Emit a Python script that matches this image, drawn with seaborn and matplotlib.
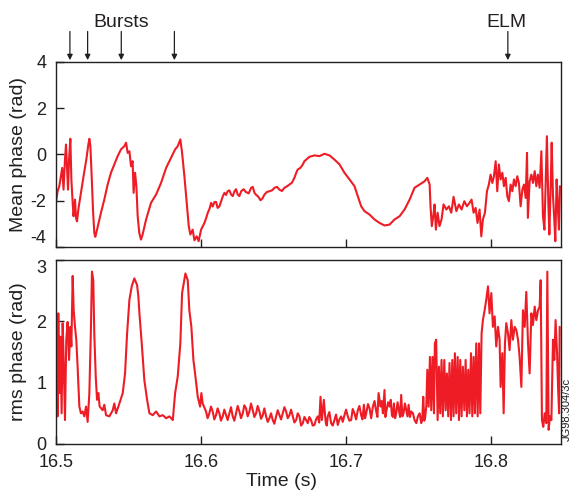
import matplotlib
matplotlib.use('Agg')
import matplotlib.pyplot as plt
import seaborn as sns
import pandas as pd

# Mean phase trace (top panel)
mean_time = [16.5000, 16.5011, 16.5023, 16.5034, 16.5043, 16.5052, 16.5062, 16.5069, 16.5076, 16.5083,
             16.5090, 16.5099, 16.5106, 16.5115, 16.5121, 16.5131, 16.5138, 16.5145, 16.5154, 16.5172,
             16.5190, 16.5209, 16.5223, 16.5230, 16.5237, 16.5246, 16.5255, 16.5264, 16.5271, 16.5283,
             16.5310, 16.5333, 16.5356, 16.5379, 16.5402, 16.5425, 16.5448, 16.5471, 16.5483, 16.5494,
             16.5506, 16.5517, 16.5528, 16.5535, 16.5545, 16.5554, 16.5563, 16.5574, 16.5586, 16.5597,
             16.5621, 16.5655, 16.5690, 16.5724, 16.5759, 16.5793, 16.5821, 16.5839, 16.5857, 16.5869,
             16.5885, 16.5901, 16.5915, 16.5926, 16.5942, 16.5954, 16.5970, 16.5983, 16.6000, 16.6023,
             16.6046, 16.6069, 16.6092, 16.6114, 16.6138, 16.6161, 16.6183, 16.6207, 16.6230, 16.6252,
             16.6276, 16.6310, 16.6345, 16.6368, 16.6390, 16.6409, 16.6437, 16.6471, 16.6506, 16.6540,
             16.6574, 16.6609, 16.6643, 16.6666, 16.6701, 16.6712, 16.6747, 16.6781, 16.6816, 16.6850,
             16.6885, 16.6919, 16.6954, 16.6988, 16.7023, 16.7057, 16.7080, 16.7103, 16.7126, 16.7161,
             16.7195, 16.7230, 16.7264, 16.7299, 16.7333, 16.7368, 16.7402, 16.7437, 16.7471, 16.7506,
             16.7540, 16.7559, 16.7575, 16.7581, 16.7590, 16.7600, 16.7609, 16.7618, 16.7630, 16.7643,
             16.7657, 16.7671, 16.7690, 16.7708, 16.7724, 16.7740, 16.7759, 16.7777, 16.7795, 16.7814,
             16.7832, 16.7850, 16.7864, 16.7878, 16.7892, 16.7905, 16.7919, 16.7931, 16.7942, 16.7956,
             16.7970, 16.7983, 16.7995, 16.8007, 16.8018, 16.8030, 16.8041, 16.8052, 16.8064, 16.8076,
             16.8087, 16.8099, 16.8110, 16.8121, 16.8133, 16.8145, 16.8156, 16.8168, 16.8179, 16.8190,
             16.8202, 16.8214, 16.8225, 16.8237, 16.8246, 16.8252, 16.8264, 16.8276, 16.8287, 16.8299,
             16.8310, 16.8321, 16.8333, 16.8345, 16.8356, 16.8366, 16.8374, 16.8383, 16.8393, 16.8400,
             16.8409, 16.8416, 16.8425, 16.8434, 16.8441, 16.8450, 16.8459, 16.8466, 16.8473]
mean_phase = [-2.09, -1.59, -1.37, -0.94, -0.58, -1.52, -0.22, 0.43, -0.50, -1.52,
              -0.22, 0.68, -1.08, -2.09, -2.67, -1.95, -2.74, -2.89, -2.38, -1.66,
              -0.94, -0.22, 0.43, 0.68, 0.36, -0.94, -2.38, -3.39, -3.56, -3.25,
              -2.52, -1.95, -1.30, -0.79, -0.43, -0.07, 0.22, 0.36, 0.51, 0.07,
              0.14, -0.51, -0.29, -1.66, -0.79, -1.37, -2.67, -3.39, -3.68, -3.46,
              -2.81, -2.09, -1.73, -1.23, -0.58, -0.14, 0.22, 0.36, 0.65, 0.07,
              -0.94, -2.09, -3.10, -3.46, -3.25, -3.71, -3.54, -3.75, -3.25, -2.96,
              -2.52, -2.09, -2.06, -2.31, -2.02, -1.66, -1.59, -1.73, -1.59, -1.73,
              -1.59, -1.63, -1.44, -1.66, -1.80, -1.98, -1.73, -1.59, -1.44, -1.52,
              -1.44, -1.30, -1.01, -0.65, -0.43, -0.29, -0.10, -0.04, -0.07, 0.03,
              -0.04, -0.22, -0.43, -0.79, -1.08, -1.37, -1.80, -2.24, -2.45, -2.60,
              -2.81, -2.96, -3.07, -3.03, -2.81, -2.67, -2.38, -1.95, -1.44, -1.30,
              -1.16, -1.01, -1.30, -2.24, -3.10, -2.67, -2.16, -3.25, -2.52, -3.10,
              -2.81, -2.16, -2.38, -2.24, -2.52, -1.83, -2.45, -2.16, -2.38, -2.02,
              -2.24, -2.09, -1.95, -2.52, -2.31, -2.96, -2.38, -3.54, -2.81, -2.52,
              -1.59, -1.30, -0.87, -1.23, -0.94, -0.29, -1.59, -0.43, -1.08, -0.79,
              -1.37, -1.01, -1.80, -2.02, -1.30, -1.59, -1.08, -1.37, -0.94, -1.23,
              -2.24, -1.52, -1.30, -1.88, 0.07, -2.74, -1.16, -0.87, -1.23, -0.72,
              -1.37, -0.87, -1.44, 0.14, -2.67, -3.25, -1.37, 0.79, -2.09, -3.46,
              -1.37, 0.51, -1.80, -2.81, -3.75, -1.08, -2.38, -3.25, -1.37]

# extra small wiggles on the slow part of the mean phase
mean_wiggle_time = [16.6035, 16.6058, 16.6080, 16.6103, 16.6126, 16.6150, 16.6172, 16.6195, 16.6218, 16.6241,
                    16.6264, 16.6293, 16.6328, 16.6356, 16.6380, 16.6400, 16.6423, 16.6454, 16.6489, 16.6523,
                    16.6557, 16.6591, 16.6626, 16.6655, 16.6684]
mean_wiggle_phase = [-2.75, -2.35, -2.25, -2.05, -2.25, -1.80, -1.75, -1.55, -1.80, -1.50,
                     -1.80, -1.50, -1.68, -1.40, -1.75, -1.88, -1.90, -1.62, -1.55, -1.40,
                     -1.58, -1.38, -1.22, -0.80, -0.58]

# rms phase trace (bottom panel)
rms_time = [16.5000, 16.5007, 16.5011, 16.5016, 16.5023, 16.5030, 16.5039, 16.5046, 16.5053, 16.5062,
            16.5071, 16.5080, 16.5090, 16.5099, 16.5106, 16.5115, 16.5122, 16.5131, 16.5140, 16.5149,
            16.5161, 16.5172, 16.5184, 16.5195, 16.5207, 16.5218, 16.5230, 16.5241, 16.5248, 16.5257,
            16.5264, 16.5274, 16.5283, 16.5292, 16.5301, 16.5322, 16.5333, 16.5345, 16.5368, 16.5391,
            16.5402, 16.5414, 16.5437, 16.5460, 16.5476, 16.5490, 16.5506, 16.5522, 16.5540, 16.5559,
            16.5568, 16.5575, 16.5591, 16.5609, 16.5628, 16.5644, 16.5667, 16.5690, 16.5713, 16.5736,
            16.5759, 16.5782, 16.5805, 16.5821, 16.5839, 16.5857, 16.5869, 16.5892, 16.5908, 16.5919,
            16.5933, 16.5947, 16.5961, 16.5977, 16.5993, 16.6002, 16.6011, 16.6034, 16.6057, 16.6080,
            16.6103, 16.6126, 16.6149, 16.6172, 16.6195, 16.6218, 16.6241, 16.6264, 16.6287, 16.6310,
            16.6333, 16.6356, 16.6379, 16.6402, 16.6425, 16.6448, 16.6471, 16.6494, 16.6517, 16.6540,
            16.6563, 16.6586, 16.6609, 16.6632, 16.6655, 16.6678, 16.6701, 16.6724, 16.6735, 16.6758,
            16.6781, 16.6804, 16.6823, 16.6832, 16.6846, 16.6860, 16.6873, 16.6896, 16.6919, 16.6942,
            16.6965, 16.6988, 16.7011, 16.7034, 16.7057, 16.7080, 16.7103, 16.7122, 16.7138, 16.7161,
            16.7184, 16.7207, 16.7223, 16.7237, 16.7253, 16.7264, 16.7278, 16.7299, 16.7315, 16.7329,
            16.7345, 16.7363, 16.7379, 16.7395, 16.7414, 16.7430, 16.7448, 16.7471, 16.7494, 16.7517,
            16.7531, 16.7545, 16.7559, 16.7568, 16.7577, 16.7586, 16.7595, 16.7605, 16.7611, 16.7620,
            16.7630, 16.7639, 16.7648, 16.7657, 16.7666, 16.7676, 16.7685, 16.7694, 16.7703, 16.7712,
            16.7722, 16.7731, 16.7740, 16.7749, 16.7758, 16.7768, 16.7777, 16.7786, 16.7795, 16.7804,
            16.7814, 16.7823, 16.7832, 16.7841, 16.7850, 16.7860, 16.7869, 16.7878, 16.7887, 16.7896,
            16.7906, 16.7915, 16.7924, 16.7933, 16.7942, 16.7954, 16.7965, 16.7977, 16.7988, 16.8000,
            16.8011, 16.8023, 16.8034, 16.8046, 16.8057, 16.8064, 16.8076, 16.8085, 16.8094, 16.8103,
            16.8115, 16.8126, 16.8138, 16.8149, 16.8161, 16.8172, 16.8184, 16.8195, 16.8207, 16.8218,
            16.8230, 16.8241, 16.8253, 16.8264, 16.8276, 16.8287, 16.8299, 16.8310, 16.8322, 16.8333,
            16.8340, 16.8349, 16.8358, 16.8368, 16.8379, 16.8386, 16.8395, 16.8404, 16.8414, 16.8425,
            16.8434, 16.8443, 16.8453, 16.8460, 16.8467, 16.8471]
rms_phase = [1.04, 1.32, 0.45, 2.13, 0.83, 1.75, 0.50, 1.97, 1.37, 0.39,
             1.70, 1.99, 1.37, 1.91, 1.59, 2.74, 2.18, 1.91, 1.70, 1.26,
             0.61, 0.50, 0.53, 0.45, 0.61, 0.36, 0.83, 1.91, 2.81, 2.67,
             1.80, 1.10, 0.72, 0.83, 0.61, 0.55, 0.64, 0.47, 0.45, 0.55,
             0.66, 0.50, 0.66, 0.83, 1.15, 1.80, 2.35, 2.57, 2.70, 2.59,
             2.40, 2.13, 1.64, 1.04, 0.72, 0.50, 0.47, 0.53, 0.45, 0.47,
             0.42, 0.45, 0.39, 0.83, 1.10, 1.64, 2.46, 2.78, 2.67, 2.18,
             1.91, 1.37, 1.10, 0.77, 0.61, 0.83, 0.66, 0.53, 0.50, 0.53,
             0.47, 0.50, 0.45, 0.47, 0.50, 0.45, 0.50, 0.53, 0.50, 0.58,
             0.53, 0.55, 0.50, 0.53, 0.47, 0.45, 0.42, 0.39, 0.45, 0.47,
             0.50, 0.53, 0.47, 0.45, 0.39, 0.45, 0.34, 0.39, 0.34, 0.39,
             0.31, 0.45, 0.77, 0.39, 0.72, 0.34, 0.45, 0.34, 0.39, 0.31,
             0.45, 0.47, 0.45, 0.39, 0.50, 0.55, 0.47, 0.64, 0.50, 0.58,
             0.61, 0.53, 0.83, 0.61, 0.50, 0.88, 0.55, 0.61, 0.47, 0.66,
             0.50, 0.55, 0.80, 0.50, 0.55, 0.64, 0.53, 0.39, 0.45, 0.34,
             0.77, 0.45, 1.21, 0.61, 1.42, 0.55, 1.42, 0.50, 1.64, 1.70,
             0.39, 1.26, 0.50, 1.37, 0.45, 1.37, 0.55, 1.15, 0.45, 1.32,
             0.39, 1.37, 0.45, 1.48, 0.50, 1.42, 0.39, 1.37, 0.45, 1.26,
             0.55, 1.37, 0.45, 1.21, 0.50, 1.48, 0.45, 1.42, 0.50, 1.64,
             0.45, 1.64, 0.50, 1.80, 2.02, 2.18, 2.35, 2.57, 2.13, 2.46,
             1.91, 2.08, 1.59, 1.91, 1.70, 0.93, 1.48, 0.50, 1.64, 1.97,
             1.80, 1.53, 2.02, 1.70, 1.91, 1.86, 1.70, 1.42, 0.93, 2.18,
             1.91, 2.48, 1.64, 1.15, 2.13, 1.94, 2.24, 2.02, 2.18, 2.24,
             2.67, 0.39, 0.28, 0.50, 0.34, 2.81, 0.23, 0.45, 0.39, 1.70,
             1.37, 2.02, 1.48, 0.93, 0.50, 1.91]

# extra jitter on the quiet baseline of the rms phase
rms_jitter_time = [16.6045, 16.6068, 16.6091, 16.6114, 16.6137, 16.6160, 16.6183, 16.6206, 16.6229, 16.6252,
                   16.6275, 16.6298, 16.6321, 16.6344, 16.6367, 16.6390, 16.6413, 16.6436, 16.6459, 16.6482,
                   16.6505, 16.6528, 16.6551, 16.6574, 16.6597, 16.6620, 16.6643, 16.6666, 16.6689, 16.6712,
                   16.6746, 16.6769, 16.6792, 16.6814, 16.6853, 16.6866, 16.6884, 16.6907, 16.6930, 16.6953,
                   16.6976, 16.6999, 16.7022, 16.7045, 16.7068, 16.7091, 16.7112, 16.7130, 16.7150, 16.7172,
                   16.7195, 16.7215, 16.7245, 16.7270, 16.7289, 16.7307, 16.7322, 16.7337, 16.7354, 16.7371,
                   16.7387, 16.7405, 16.7422, 16.7439, 16.7460, 16.7483, 16.7506, 16.7524, 16.7538, 16.7552]
rms_jitter_phase = [0.42, 0.61, 0.40, 0.58, 0.38, 0.56, 0.39, 0.60, 0.38, 0.62,
                    0.42, 0.63, 0.45, 0.66, 0.44, 0.62, 0.41, 0.58, 0.36, 0.50,
                    0.33, 0.55, 0.40, 0.60, 0.42, 0.56, 0.35, 0.50, 0.30, 0.44,
                    0.44, 0.30, 0.40, 0.35, 0.50, 0.30, 0.52, 0.30, 0.48, 0.40,
                    0.36, 0.56, 0.38, 0.57, 0.40, 0.62, 0.40, 0.42, 0.65, 0.42,
                    0.70, 0.44, 0.70, 0.44, 0.68, 0.72, 0.44, 0.42, 0.68, 0.44,
                    0.45, 0.66, 0.45, 0.44, 0.50, 0.34, 0.50, 0.40, 0.38, 0.62]

burst_times = [16.5096, 16.5218, 16.545, 16.5816]
elm_time = 16.8114

line_color = '#ee1c25'
text_color = '#231f20'

sns.set_style('ticks')
plt.rcParams['font.family'] = ['Liberation Sans', 'DejaVu Sans']
plt.rcParams['font.size'] = 13
plt.rcParams['axes.unicode_minus'] = False

top_df = pd.DataFrame({'time': mean_time + mean_wiggle_time,
                       'phase': mean_phase + mean_wiggle_phase})
bot_df = pd.DataFrame({'time': rms_time + rms_jitter_time,
                       'phase': rms_phase + rms_jitter_phase})

fig = plt.figure(figsize=(5.73, 4.92), dpi=100)
ax1 = fig.add_axes([0.0977, 0.498, 0.8813, 0.376])
ax2 = fig.add_axes([0.0977, 0.0976, 0.8813, 0.374])

sns.lineplot(data=top_df, x='time', y='phase', ax=ax1, color=line_color, lw=1.5, estimator=None)
sns.lineplot(data=bot_df, x='time', y='phase', ax=ax2, color=line_color, lw=1.5, estimator=None)

for ax in (ax1, ax2):
    ax.set_xlim(16.5, 16.848)
    ax.set_xticks([16.5, 16.6, 16.7, 16.8])
    ax.tick_params(direction='in', length=6, width=1, colors=text_color,
                   labelsize=13, pad=7)
    for s in ax.spines.values():
        s.set_color(text_color)
        s.set_linewidth(1)

ax1.set_ylim(-4, 4)
ax1.set_yticks([-4, -2, 0, 2, 4])
ax1.tick_params(labelbottom=False)
ax1.set_xlabel('')
ax1.set_ylabel('Mean phase (rad)', fontsize=14, color=text_color)

ax2.set_ylim(0, 3)
ax2.set_yticks([0, 1, 2, 3])
ax2.set_xticklabels(['16.5', '16.6', '16.7', '16.8'])
ax2.set_ylabel('rms phase (rad)', fontsize=14, color=text_color)
ax2.set_xlabel('Time (s)', fontsize=14, color=text_color)
ax2.xaxis.set_label_coords(0.446, -0.16)
ax1.yaxis.set_label_coords(-0.058, 0.5)
ax2.yaxis.set_label_coords(-0.058, 0.5)

# keep the end labels of the two panels apart, as in the original
ax1.get_yticklabels()[0].set_va('bottom')
ax2.get_yticklabels()[-1].set_va('top')

# event arrows above the top panel
for t in burst_times + [elm_time]:
    ax1.annotate('', xy=(t, 1.01), xycoords=('data', 'axes fraction'),
                 xytext=(t, 1.165), textcoords=('data', 'axes fraction'),
                 arrowprops=dict(arrowstyle='-|>', color=text_color, lw=0.9,
                                 mutation_scale=8, shrinkA=0, shrinkB=0))
ax1.text(16.5448, 1.215, 'Bursts', transform=ax1.get_xaxis_transform(),
         ha='center', va='center', fontsize=14, color=text_color)
ax1.text(16.8103, 1.215, 'ELM', transform=ax1.get_xaxis_transform(),
         ha='center', va='center', fontsize=14, color=text_color)

fig.text(0.989, 0.167, 'JG98.304/3c', rotation=90, ha='center', va='center',
         fontsize=8, color=text_color)

fig.savefig('out.png', dpi=100)
